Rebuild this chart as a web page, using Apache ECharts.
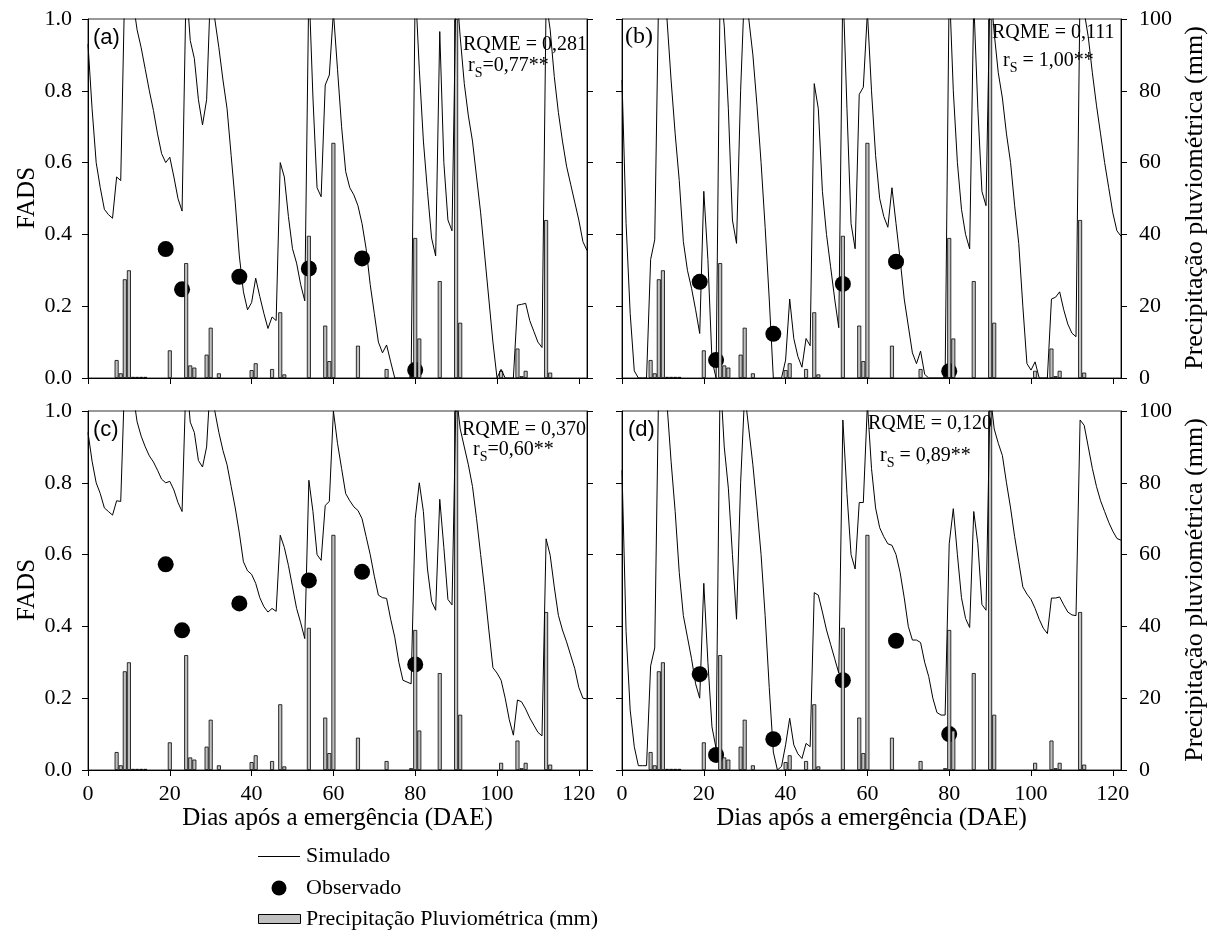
<!DOCTYPE html>
<html>
<head>
<meta charset="utf-8">
<script src="https://cdn.jsdelivr.net/npm/echarts@6/dist/echarts.min.js"></script>
<style>
  html, body { margin: 0; padding: 0; background: #fff; }
  #chart { width: 1212px; height: 936px; }
</style>
</head>
<body>
<div id="chart"></div>
<script>
// Simulated FADS, one value per day after emergence (day 0 .. 122)
const SIM_A = [0.93,0.75,0.60,0.53,0.47,0.455,0.445,0.56,0.55,1.1,1.2,1.05,0.97,0.92,0.86,0.80,0.745,0.68,0.625,0.60,
  0.615,0.56,0.50,0.465,1.1,0.94,0.89,0.775,0.705,0.775,1.1,1.0,0.92,0.83,0.75,0.62,0.49,0.34,0.24,0.19,
  0.21,0.278,0.227,0.18,0.138,0.17,0.16,0.6,0.56,0.45,0.36,0.32,0.26,0.215,1.1,0.78,0.53,0.505,0.816,0.844,
  1.02,0.86,0.70,0.575,0.53,0.51,0.48,0.43,0.36,0.26,0.18,0.1,0.07,0.092,0.045,0,0,0,0,0,
  1.1,0.86,0.66,0.52,0.39,0.34,0.965,0.6,0.44,0.41,1.1,0.95,0.82,0.73,0.66,0.56,0.46,0.34,0.22,0.1,
  0,0.024,0,0,0,0.203,0.205,0.208,0.16,0.13,0.1,0.085,1.05,0.97,0.84,0.74,0.66,0.59,0.54,0.49,
  0.44,0.38,0.355];
const SIM_B = [0.83,0.43,0.18,0.02,0,0,0,0.33,0.385,1.1,1.2,1.0,0.83,0.68,0.55,0.38,0.3,0.25,0.19,0.124,
  0.52,0.33,0.05,0,1.1,0.98,0.75,0.44,0.375,0.8,1.1,1.0,0.9,0.76,0.6,0.42,0.22,0,0,0,
  0.05,0.22,0.11,0.06,0.03,0.11,0.09,0.82,0.75,0.52,0.4,0.31,0.22,0.14,1.1,0.75,0.43,0.36,0.79,0.81,
  1.02,0.8,0.62,0.5,0.45,0.42,0.53,0.43,0.33,0.22,0.145,0.07,0.04,0.075,0.01,0,0,0,0,0,
  1.1,0.8,0.6,0.47,0.4,0.36,1.05,0.75,0.52,0.48,1.1,0.96,0.85,0.78,0.68,0.6,0.48,0.375,0.2,0.04,
  0.022,0.045,0,0,0,0.22,0.225,0.24,0.19,0.15,0.125,0.115,1.1,1.02,0.95,0.85,0.76,0.68,0.6,0.53,
  0.46,0.41,0.395];
const SIM_C = [0.94,0.86,0.80,0.77,0.73,0.72,0.71,0.75,0.748,1.1,1.2,1.05,0.97,0.93,0.90,0.875,0.858,0.835,0.81,0.80,
  0.804,0.78,0.745,0.72,1.1,0.969,0.94,0.862,0.844,0.9,1.1,1.0,0.94,0.89,0.85,0.79,0.73,0.66,0.58,0.555,
  0.545,0.52,0.48,0.455,0.44,0.45,0.442,0.654,0.62,0.57,0.51,0.45,0.41,0.366,0.807,0.72,0.6,0.584,0.737,0.748,
  1.0,0.91,0.84,0.77,0.75,0.733,0.723,0.70,0.65,0.6,0.54,0.487,0.48,0.478,0.42,0.37,0.3,0.25,0.245,0.24,
  0.7,0.8,0.72,0.56,0.47,0.445,0.754,0.62,0.475,0.46,1.05,0.95,0.9,0.85,0.79,0.7,0.6,0.5,0.39,0.285,
  0.27,0.25,0.2,0.14,0.097,0.195,0.19,0.17,0.145,0.125,0.105,0.095,0.644,0.598,0.51,0.431,0.39,0.357,0.32,0.283,
  0.23,0.2,0.198];
const SIM_D = [0.835,0.385,0.167,0.065,0.012,0.012,0.012,0.29,0.34,1.1,1.2,1.02,0.86,0.72,0.55,0.43,0.37,0.31,0.24,0.2,
  0.52,0.3,0.12,0.06,1.1,0.9,0.785,0.6,0.42,0.8,1.05,0.95,0.85,0.73,0.6,0.43,0.23,0.05,0,0.01,
  0.07,0.144,0.07,0.045,0.032,0.074,0.065,0.494,0.487,0.44,0.39,0.35,0.31,0.27,0.975,0.77,0.6,0.56,0.745,0.745,
  1.02,0.84,0.73,0.675,0.65,0.63,0.626,0.6,0.55,0.48,0.4,0.362,0.362,0.355,0.3,0.26,0.2,0.16,0.153,0.153,
  0.63,0.728,0.6,0.48,0.422,0.397,0.72,0.63,0.461,0.445,1.05,0.95,0.91,0.876,0.8,0.73,0.65,0.58,0.51,0.49,
  0.475,0.45,0.42,0.395,0.38,0.479,0.479,0.482,0.46,0.44,0.432,0.43,0.975,0.96,0.9,0.84,0.79,0.75,0.72,0.69,
  0.665,0.645,0.64];

// Observed FADS (sampling days)
const OBS_DAYS = [19, 23, 37, 54, 67, 80];
const OBS_A = [0.359, 0.247, 0.282, 0.305, 0.333, 0.022];
const OBS_B = [0.268, 0.05, 0.123, 0.262, 0.324, 0.019];
const OBS_C = [0.573, 0.389, 0.464, 0.528, 0.552, 0.294];
const OBS_D = [0.267, 0.042, 0.086, 0.25, 0.36, 0.10];

// Daily rainfall (mm)
const RAIN_DAYS = [7,8,9,10,11,12,13,14,20,24,25,26,29,30,32,40,41,45,47,48,54,58,59,60,66,73,79,80,81,86,90,91,101,105,106,107,112,113];
const RAIN_MM   = [5,1.3,27.5,30,0.3,0.3,0.3,0.3,7.7,32,3.5,2.9,6.5,14,1.3,2.2,4.1,2.5,18.3,1,39.6,14.6,4.7,65.5,9,2.5,0.5,39,11,27,100,15.4,2,8.2,0.5,2,44,1.5];

// Axis ticks
const X_TICKS = [0, 20, 40, 60, 80, 100, 120];

// Panel annotations
const PANEL_TAGS = ['(a)', '(b)', '(c)', '(d)'];
const RQME_TEXT = ['RQME = 0,281', 'RQME = 0,111', 'RQME = 0,370', 'RQME = 0,120'];
const RS_TEXT = ['=0,77**', ' = 1,00**', '=0,60**', ' = 0,89**'];
const LEGEND_NAMES = ['Simulado', 'Observado', 'Precipitação Pluviométrica (mm)'];

const SERIF = '"Liberation Serif", "Times New Roman", serif';
const SANS = '"Liberation Sans", Arial, sans-serif';
const RAIN_FILL = '#c0c0c0';

const chart = echarts.init(document.getElementById('chart'), null, { renderer: 'canvas' });

const GRID_POS = [
  { left: 88,  top: 19,  width: 499, height: 359 },
  { left: 622, top: 19,  width: 499, height: 359 },
  { left: 88,  top: 411, width: 499, height: 359 },
  { left: 622, top: 411, width: 499, height: 359 }
];
const SIMS = [SIM_A, SIM_B, SIM_C, SIM_D];
const OBSS = [OBS_A, OBS_B, OBS_C, OBS_D];

const grids = [], xAxes = [], yAxes = [], series = [];
const axisLineStyle = { color: '#000', width: 1 };

GRID_POS.forEach((g, i) => {
  const isLeft = (i % 2 === 0);
  const isBottom = (i >= 2);
  grids.push(Object.assign({ show: true, borderColor: '#333', borderWidth: 1, containLabel: false }, g));

  xAxes.push({
    gridIndex: i, type: 'value', min: 0, max: 122, interval: 20,
    axisLine: { show: true, onZero: false, lineStyle: axisLineStyle },
    axisTick: { show: true, inside: false, length: 6, lineStyle: axisLineStyle, customValues: X_TICKS },
    axisLabel: { show: isBottom, customValues: X_TICKS, margin: 13, fontFamily: SERIF, fontSize: 22, color: '#000' },
    splitLine: { show: false }
  });

  yAxes.push({
    gridIndex: i, type: 'value', position: 'left', min: 0, max: 1, interval: 0.2,
    axisLine: { show: true, onZero: false, lineStyle: axisLineStyle },
    axisTick: { show: true, inside: false, length: 6, lineStyle: axisLineStyle },
    axisLabel: { show: isLeft, margin: 16, fontFamily: SERIF, fontSize: 22, color: '#000',
      formatter: v => v.toFixed(1) },
    splitLine: { show: false }
  });
  yAxes.push({
    gridIndex: i, type: 'value', position: 'right', min: 0, max: 100, interval: 20,
    axisLine: { show: true, onZero: false, lineStyle: axisLineStyle },
    axisTick: { show: true, inside: false, length: 6, lineStyle: axisLineStyle },
    axisLabel: { show: !isLeft, margin: 18, fontFamily: SERIF, fontSize: 22, color: '#000' },
    splitLine: { show: false }
  });

  series.push({
    type: 'scatter', name: LEGEND_NAMES[1], xAxisIndex: i, yAxisIndex: 2 * i,
    data: OBS_DAYS.map((d, k) => [d, OBSS[i][k]]),
    symbol: 'circle', symbolSize: 16, itemStyle: { color: '#000', opacity: 1 }, z: 2, silent: true
  });
  series.push({
    type: 'bar', name: LEGEND_NAMES[2], xAxisIndex: i, yAxisIndex: 2 * i + 1,
    data: RAIN_DAYS.map((d, k) => [d, RAIN_MM[k]]),
    barWidth: 4, itemStyle: { color: RAIN_FILL, borderColor: '#000', borderWidth: 0.8 }, z: 3, silent: true
  });
  series.push({
    type: 'line', name: LEGEND_NAMES[0], xAxisIndex: i, yAxisIndex: 2 * i,
    data: SIMS[i].map((v, d) => [d, v]),
    symbol: 'none', clip: true, lineStyle: { color: '#000', width: 1 }, z: 4, silent: true
  });
});

// Free lettering: panel tags, statistics, axis titles and the key
function label(x, y, text, o) {
  o = o || {};
  return {
    type: 'text', x: x, y: y, z: 100, silent: true,
    rotation: o.rot || 0,
    style: {
      text: text, fontSize: o.size || 20, fontFamily: o.font || SERIF, fill: '#000',
      align: o.align || 'left', verticalAlign: 'middle',
      textAlign: o.align || 'left', textVerticalAlign: 'middle',
      rich: o.rich
    }
  };
}
function rsLabel(x, y, rest) {
  return label(x, y, '{r|r}{s|S}{r|' + rest + '}', {
    rich: {
      r: { fontSize: 20, fontFamily: SERIF, lineHeight: 24, verticalAlign: 'top', fill: '#000' },
      s: { fontSize: 14, fontFamily: SERIF, lineHeight: 14, verticalAlign: 'bottom', fill: '#000' }
    }
  });
}

const TITLE_SIZE = 25;
const KEY_SIZE = 22;

const graphics = [
  label(93, 38, PANEL_TAGS[0], { font: SANS, size: 22 }),
  label(625, 37, PANEL_TAGS[1], { font: SERIF, size: 24 }),
  label(93, 430, PANEL_TAGS[2], { font: SANS, size: 22 }),
  label(628, 430, PANEL_TAGS[3], { font: SANS, size: 22 }),

  label(463, 45, RQME_TEXT[0]),
  rsLabel(468, 68, RS_TEXT[0]),
  label(992, 33, RQME_TEXT[1]),
  rsLabel(1003, 63, RS_TEXT[1]),
  label(462, 430, RQME_TEXT[2]),
  rsLabel(473, 452, RS_TEXT[2]),
  label(868, 424, RQME_TEXT[3]),
  rsLabel(880, 458, RS_TEXT[3]),

  label(27, 198, 'FADS', { rot: Math.PI / 2, align: 'center', size: TITLE_SIZE }),
  label(27, 590, 'FADS', { rot: Math.PI / 2, align: 'center', size: TITLE_SIZE }),
  label(1195, 198, 'Precipitação pluviométrica (mm)', { rot: Math.PI / 2, align: 'center', size: 26 }),
  label(1195, 590, 'Precipitação pluviométrica (mm)', { rot: Math.PI / 2, align: 'center', size: 26 }),

  label(337.5, 818, 'Dias após a emergência (DAE)', { align: 'center', size: TITLE_SIZE }),
  label(871.5, 818, 'Dias após a emergência (DAE)', { align: 'center', size: TITLE_SIZE }),

  // key
  { type: 'line', silent: true, z: 100, shape: { x1: 258, y1: 856.5, x2: 300, y2: 856.5 },
    style: { stroke: '#000', lineWidth: 1 } },
  { type: 'circle', silent: true, z: 100, shape: { cx: 279, cy: 888, r: 7.5 }, style: { fill: '#000' } },
  { type: 'rect', silent: true, z: 100, shape: { x: 258.5, y: 914.5, width: 42, height: 9 },
    style: { fill: RAIN_FILL, stroke: '#000', lineWidth: 1 } },
  label(306, 856, LEGEND_NAMES[0], { size: KEY_SIZE }),
  label(306, 888, LEGEND_NAMES[1], { size: KEY_SIZE }),
  label(306, 919, LEGEND_NAMES[2], { size: KEY_SIZE })
];

chart.setOption({
  animation: false,
  backgroundColor: '#fff',
  grid: grids,
  xAxis: xAxes,
  yAxis: yAxes,
  series: series,
  graphic: graphics
});
</script>
</body>
</html>
